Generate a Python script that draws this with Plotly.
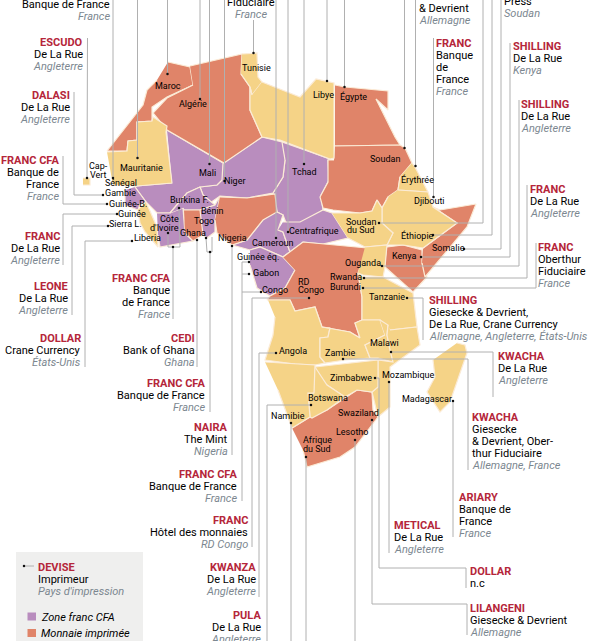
import plotly.graph_objects as go

# outlines, in picture units
maroc = [(168,62),(190,67),(193,85),(167,97),(152,107),(152,121),(137,122),(137,140),(128,141),(127,151),(107,151),(143,105),(147,90),(157,80)]
algerie = [(190,66),(242,54),(241,74),(250,87),(250,110),(262,137),(224,163),(167,130),(153,113),(167,98),(193,85)]
tunisie = [(242,54),(257,53),(258,77),(262,82),(252,95),(250,87),(241,74)]
libye = [(262,82),(300,97),(316,79),(334,83),(334,158),(330,159),(280,140),(262,137),(250,110),(250,87),(252,95)]
egypte = [(335,85),(345,87),(388,91),(388,110),(376,99),(395,137),(400,145),(335,146)]
soudan = [(335,146),(400,145),(405,148),(412,163),(400,177),(398,190),(388,197),(382,208),(377,200),(372,211),(360,213),(333,210),(323,208),(320,197),(328,182),(328,160),(334,160)]
tchad = [(282,142),(330,159),(328,160),(329,180),(321,195),(323,210),(305,222),(288,228),(283,215),(277,212),(273,193),(283,177),(285,160)]
niger = [(223,163),(262,137),(282,142),(285,160),(283,177),(273,193),(247,198),(220,196),(210,203),(203,195),(200,187),(217,185),(222,180)]
mali = [(167,130),(223,163),(222,180),(217,185),(200,187),(187,193),(170,213),(157,213),(146,202),(135,187),(137,186),(172,183)]
mauritanie = [(107,152),(127,151),(128,141),(137,140),(137,122),(152,121),(153,117),(167,126),(166,132),(172,183),(137,186),(113,185)]
guinee_ouest = [(135,187),(146,202),(140,204),(138,210),(125,205),(125,190)]
guinee = [(146,202),(157,227),(158,247),(145,232),(140,223),(138,210)]
cote_ivoire = [(157,213),(170,213),(183,208),(185,233),(193,241),(160,247),(158,235)]
burkina = [(170,213),(187,193),(200,187),(203,195),(215,205),(200,210),(184,210),(183,208)]
ghana = [(184,210),(200,210),(203,235),(193,241),(185,233)]
togo_benin = [(200,210),(215,205),(220,196),(215,220),(215,232),(207,238),(203,235)]
nigeria = [(220,197),(247,198),(275,194),(277,212),(263,220),(247,240),(232,245),(217,233),(215,220)]
cameroun = [(277,212),(283,215),(278,230),(283,232),(290,252),(283,257),(260,247),(250,250),(232,245),(247,240),(263,220)]
centrafrique = [(283,222),(300,222),(323,210),(332,213),(348,238),(323,244),(303,242),(283,257),(290,252),(283,232),(278,230)]
gabon_congo = [(250,250),(260,247),(283,257),(295,270),(285,288),(270,296),(257,288),(250,265)]
rd_congo = [(283,257),(303,242),(367,248),(358,273),(362,297),(362,320),(355,323),(360,338),(350,332),(322,327),(315,307),(295,311),(290,300),(267,300),(270,296),(285,288),(295,270)]
erythree = [(412,163),(415,167),(428,192),(398,190),(400,177)]
ethiopie = [(398,190),(428,192),(433,207),(457,223),(423,248),(403,245),(387,245),(393,233),(382,223),(382,208),(388,197)]
soudan_sud = [(332,213),(360,213),(372,211),(377,200),(382,208),(382,223),(393,233),(387,245),(365,247),(348,238)]
ouganda = [(365,247),(387,245),(385,267),(383,277),(363,275),(358,273)]
kenya = [(387,247),(403,245),(422,250),(422,263),(427,277),(413,292),(385,267)]
somalie = [(423,248),(457,223),(433,207),(440,210),(476,204),(467,227),(425,277),(422,263)]
tanzanie = [(363,277),(383,277),(413,293),(417,327),(390,330),(380,320),(362,320),(362,297),(358,273)]
angola = [(268,300),(290,300),(295,311),(315,307),(322,327),(330,328),(328,337),(320,338),(320,357),(325,363),(315,365),(295,364),(265,360),(273,335),(275,317)]
zambie = [(322,327),(350,332),(360,338),(355,323),(362,320),(380,320),(385,335),(365,345),(370,358),(345,360),(325,363),(320,357),(320,338),(328,337),(330,328)]
malawi = [(380,320),(388,325),(387,335),(390,350),(393,362),(378,358),(370,358),(365,345),(385,335)]
mozambique = [(390,330),(417,327),(420,345),(390,367),(390,407),(378,417),(372,392),(378,387),(378,360),(393,362),(390,350),(387,335),(388,325)]
zimbabwe = [(315,367),(350,363),(378,360),(378,387),(372,392),(357,390),(345,397),(327,385)]
botswana = [(315,367),(327,385),(345,397),(327,410),(312,418),(310,417),(308,393),(314,393)]
namibie = [(265,362),(295,364),(315,365),(314,393),(308,393),(310,417),(292,428),(278,390)]
afrique_sud = [(292,428),(310,417),(327,410),(357,390),(372,392),(373,410),(378,417),(355,447),(340,457),(307,467),(303,450)]
madagascar = [(457,343),(465,345),(467,353),(450,402),(440,412),(427,392),(435,377),(433,360)]
cap_vert = [(83,178),(90,178),(90,185),(83,185)]

zone_cfa = [tchad, niger, mali, guinee_ouest, cote_ivoire, burkina, togo_benin, cameroun, centrafrique, gabon_congo]
imprimee = [maroc, algerie, egypte, soudan, ghana, nigeria, rd_congo, kenya, somalie, afrique_sud]
autres = [tunisie, libye, mauritanie, guinee, erythree, ethiopie, soudan_sud, ouganda, tanzanie, angola, zambie,
          malawi, mozambique, zimbabwe, botswana, namibie, madagascar, cap_vert]

# leaders: the first point is the dot on the country
leaders = [
    [(113,178),(113,0)], [(137.5,158),(137.5,0)], [(167.5,74),(167.5,0)], [(200,99),(200,0)],
    [(209.5,164),(209.5,0)], [(224.5,181),(224.5,0)], [(253.5,53),(253.5,20)], [(276,238),(276,0)],
    [(288,232),(288,0)], [(304,164),(304,0)], [(327,81),(327,0)], [(344.5,87),(344.5,0)],
    [(404.5,148),(404.5,0)], [(415.5,166),(415.5,0)], [(433.5,197),(433.5,38)],
    [(379,223),(483,223),(483,0)], [(433,235),(492,235),(492,0)], [(464,249),(501,249),(501,0)],
    [(421,257),(510,257),(510,43)], [(382,266),(519,266),(519,100)], [(364,278),(527,278),(527,185)],
    [(363,288),(536,288),(536,243)], [(407,298),(423,298),(423,340)], [(391,352),(493,352),(493,397)],
    [(343,359),(468,359),(468,470)], [(375,378),(379,378),(379,568),(466,568),(466,588)],
    [(389,382),(389,553)], [(453,401),(453,537)], [(372,420),(372,604),(467,604),(467,635)],
    [(355,440),(355,641)], [(306,457),(306,641)], [(87,178),(87.5,38)],
    [(103,195),(74,195),(74,92)], [(107,204),(63,204),(63,156)], [(117,214),(63,214),(63,265)],
    [(108,226),(72,226),(72,315)], [(132,241),(85,241),(85,367)],
    [(168,233),(168,247),(180,247)], [(179,208),(180,247)], [(173,247),(173,319)],
    [(197,240),(197,367)], [(206,238),(207,252),(212,252),(212,237)], [(210,252),(210,412)],
    [(232,246),(232,455)], [(249,262),(242,262),(242,501)], [(249,274),(242,274)], [(261,292),(242,292)],
    [(309,298),(252,298),(252,547)], [(276,353),(259,353),(259,597)], [(291,423),(291,641)],
    [(311,405),(267,405),(267,641)],
]

# text of the currency blocks: currency, printer lines, printing country
devises = ['', 'ESCUDO', 'DALASI', 'FRANC CFA', 'FRANC', 'LEONE', 'DOLLAR', 'FRANC CFA', 'CEDI', 'FRANC CFA', 'NAIRA',
           'FRANC CFA', 'FRANC', 'KWANZA', 'PULA',
           '', '', '', 'FRANC', 'SHILLING', 'SHILLING', 'FRANC', 'FRANC', 'SHILLING', 'KWACHA', 'KWACHA', 'ARIARY',
           'METICAL', 'DOLLAR', 'LILANGENI']
imprimeurs = [['Banque de France'], ['De La Rue'], ['De La Rue'], ['Banque de', 'France'], ['De La Rue'], ['De La Rue'],
              ['Crane Currency'], ['Banque', 'de France'], ['Bank of Ghana'], ['Banque de France'], ['The Mint'],
              ['Banque de France'], ['Hôtel des monnaies'], ['De La Rue'], ['De La Rue'],
              ['Fiduciaire'], ['& Devrient'], ['Press'], ['Banque', 'de', 'France'], ['De La Rue'], ['De La Rue'],
              ['De La Rue'], ['Oberthur', 'Fiduciaire'], ['Giesecke & Devrient,', 'De La Rue, Crane Currency'],
              ['De La Rue'], ['Giesecke', '& Devrient, Ober-', 'thur Fiduciaire'], ['Banque de', 'France'],
              ['De La Rue'], ['n.c'], ['Giesecke & Devrient']]
pays = ['France', 'Angleterre', 'Angleterre', 'France', 'Angleterre', 'Angleterre', 'États-Unis', 'France', 'Ghana',
        'France', 'Nigeria', 'France', 'RD Congo', 'Angleterre', 'Angleterre',
        'France', 'Allemagne', 'Soudan', 'France', 'Kenya', 'Angleterre', 'Angleterre', 'France',
        'Allemagne, Angleterre, États-Unis', 'Angleterre', 'Allemagne, France', 'France', 'Angleterre', '', 'Allemagne']
bloc_x = [110, 83, 70, 59, 60, 68, 81, 170, 195, 205, 228, 237, 248, 256, 261,
          251, 419, 504, 436, 513, 521, 530, 538, 429, 498, 472, 459, 394, 470, 470]
bloc_y = [-8, 42.5, 95.5, 160, 236, 286, 338, 278, 338, 383, 427, 474, 520, 567, 615,
          -10, -4, -11, 43, 46, 104, 189, 247, 300, 356, 417, 497, 525, 571, 608]
bloc_align = ['right'] * 15 + ['center'] + ['left'] * 14

noms = ['Maroc', 'Algérie', 'Tunisie', 'Libye', 'Égypte', 'Soudan', 'Érythrée', 'Djibouti', 'Soudan', 'du Sud', 'Éthiopie',
        'Somalie', 'Kenya', 'Ouganda', 'Rwanda', 'Burundi', 'Tanzanie', 'RD', 'Congo', 'Congo', 'Gabon', 'Guinée éq.',
        'Cameroun', 'Centrafrique', 'Tchad', 'Niger', 'Mali', 'Mauritanie', 'Cap-', 'Vert', 'Sénégal', 'Gambie', 'Guinée-B.',
        'Guinée', 'Sierra L.', 'Liberia', 'Côte', "d'Ivoire", 'Burkina F.', 'Bénin', 'Togo', 'Ghana', 'Nigeria', 'Angola',
        'Zambie', 'Malawi', 'Zimbabwe', 'Mozambique', 'Madagascar', 'Botswana', 'Namibie', 'Swaziland', 'Lesotho',
        'Afrique', 'du Sud']
noms_x = [168, 193, 256, 323, 353, 385, 417, 429, 361, 361, 417, 448, 404, 363, 346, 345, 387, 304, 311, 275, 266, 258,
          272, 314, 304, 235, 207, 141, 98, 98, 121, 120, 128, 132, 125, 147, 169, 164, 189, 212, 204, 193, 232, 293,
          340, 384, 351, 408, 427, 328, 288, 358, 352, 317, 317]
noms_y = [86, 104, 68, 95, 96, 159, 179, 201, 222, 230, 235, 248, 256, 263, 277, 287, 297, 282, 290, 290, 273, 257,
          243, 231, 172, 181, 173, 168, 166, 175, 183, 193, 204, 214, 224, 238, 219, 228, 200, 211, 221, 233, 238, 351,
          353, 343, 378, 375, 399, 398, 416, 413, 432, 440, 449]

ROUGE = '#B5263A'
GRIS = '#7C8790'
FONT = 'Roboto'

fig = go.Figure()


def polygone(points, couleur):
    fig.add_trace(go.Scatter(x=[p[0] for p in points], y=[p[1] for p in points], mode='lines', fill='toself',
                             fillcolor=couleur, line=dict(color='#FBEBD6', width=1.2), hoverinfo='skip'))


def texte(x, y, txt, anchor='left', color='black', size=11, bold=False, italic=False):
    if not txt:
        return
    if bold:
        txt = f'<b>{txt}</b>'
    if italic:
        txt = f'<i>{txt}</i>'
    fig.add_annotation(x=x, y=y, text=txt, showarrow=False, xanchor=anchor, yanchor='middle',
                       font=dict(family=FONT, size=size, color=color), borderpad=0, borderwidth=0)


for p in zone_cfa:
    polygone(p, '#B98DBE')
for p in imprimee:
    polygone(p, '#E08469')
for p in autres:
    polygone(p, '#F5D387')

for seg in leaders:
    fig.add_trace(go.Scatter(x=[p[0] for p in seg], y=[p[1] for p in seg], mode='lines',
                             line=dict(color='#B0B0B0', width=1), hoverinfo='skip'))
fig.add_trace(go.Scatter(x=[s[0][0] for s in leaders], y=[s[0][1] for s in leaders], mode='markers',
                         marker=dict(color='#111111', size=2.5), hoverinfo='skip'))

for i, devise in enumerate(devises):
    y = bloc_y[i]
    texte(bloc_x[i], y, devise, bloc_align[i], ROUGE, bold=True)
    for ligne in imprimeurs[i]:
        y += 12
        texte(bloc_x[i], y, ligne, bloc_align[i])
    texte(bloc_x[i], y + 12, pays[i], bloc_align[i], GRIS, italic=True)

for nom, x, y in zip(noms, noms_x, noms_y):
    texte(x, y, nom, 'center', size=9)

# legend block
fig.add_shape(type='rect', x0=16, x1=143, y0=552, y1=641, fillcolor='#EFEFEE', line_width=0, layer='below')
fig.add_trace(go.Scatter(x=[24, 34], y=[566, 566], mode='lines', line=dict(color='#B0B0B0', width=1), hoverinfo='skip'))
fig.add_trace(go.Scatter(x=[24], y=[566], mode='markers', marker=dict(color='#111111', size=2.5), hoverinfo='skip'))
texte(38, 567, 'DEVISE', color=ROUGE, bold=True)
texte(38, 579, 'Imprimeur')
texte(38, 591, "Pays d'impression", color=GRIS, italic=True)
fig.add_shape(type='rect', x0=27.5, x1=36, y0=612.5, y1=620.5, fillcolor='#B98DBE', line_width=0)
fig.add_shape(type='rect', x0=27.5, x1=36, y0=629, y1=637, fillcolor='#E08469', line_width=0)
texte(41, 617, 'Zone franc CFA', italic=True)
texte(41, 633, 'Monnaie imprimée', italic=True)

fig.update_xaxes(range=[0, 600], visible=False, fixedrange=True)
fig.update_yaxes(range=[641, 0], visible=False, fixedrange=True)
fig.update_layout(width=600, height=641, margin=dict(l=0, r=0, t=0, b=0), showlegend=False,
                  plot_bgcolor='white', paper_bgcolor='white')

fig.write_html("out.html", config={'displayModeBar': False}, post_script="document.body.style.margin='0';")
